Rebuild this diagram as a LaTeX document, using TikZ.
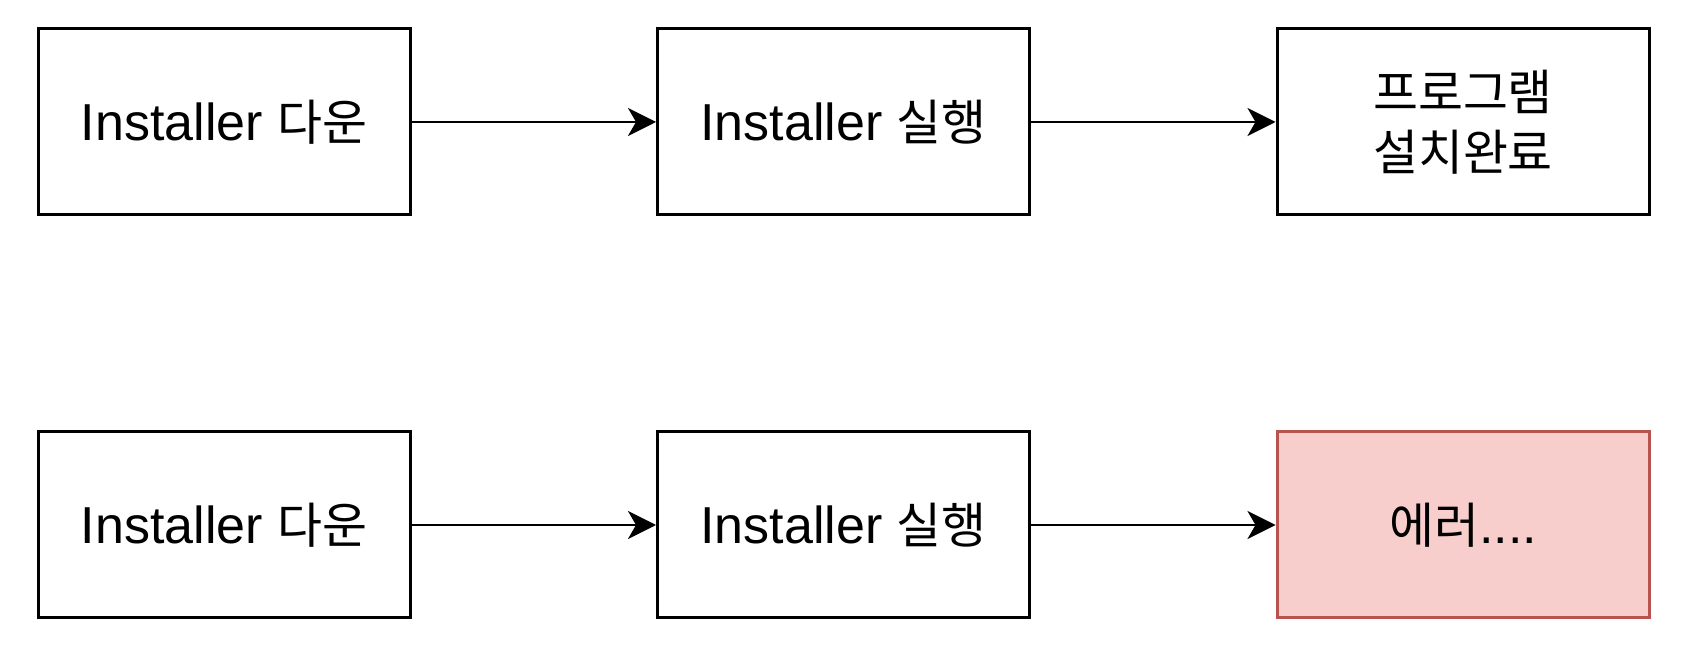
\documentclass[tikz,border=0pt]{standalone}
\usepackage{fontspec}
\setmainfont{Liberation Sans}
\newfontfamily\kr[Scale=0.94]{Noto Sans CJK KR}
\usepackage{tikz}
\usetikzlibrary{positioning, calc, arrows.meta}
\definecolor{errfill}{HTML}{F8CECC}
\definecolor{errdraw}{HTML}{B85450}

\begin{document}
\begin{tikzpicture}[every node/.style={font=\fontsize{26}{30}\selectfont}]
    \tikzstyle{block} = [draw, rectangle, minimum width=186pt, minimum height=93pt, align=center, line width=1.5pt, fill=white]
    \tikzstyle{errblock} = [block, draw=errdraw, fill=errfill]
    \tikzstyle{arrow} = [line width=1.4pt, -{Stealth[length=14pt, width=14pt, inset=4pt]}]

    \useasboundingbox (0,0) rectangle (848.5pt,-325.5pt);

    % Success Flow
    \node (down1) [block] at (112pt,-61pt) {Installer {\kr 다운}};
    \node (run1) [block, right of=down1, node distance=309.75pt] {Installer {\kr 실행}};
    \node (done) [block, right of=run1, node distance=309.75pt] {{\kr 프로그램}\\{\kr 설치완료}};

    % Error Flow
    \node (down2) [block, below of=down1, node distance=201.5pt] {Installer {\kr 다운}};
    \node (run2) [block, right of=down2, node distance=309.75pt] {Installer {\kr 실행}};
    \node (err) [errblock, right of=run2, node distance=309.75pt] {{\kr 에러}....};

    % Arrows
    \draw [arrow] (down1) -- (run1);
    \draw [arrow] (run1) -- (done);
    \draw [arrow] (down2) -- (run2);
    \draw [arrow] (run2) -- (err);
\end{tikzpicture}
\end{document}
